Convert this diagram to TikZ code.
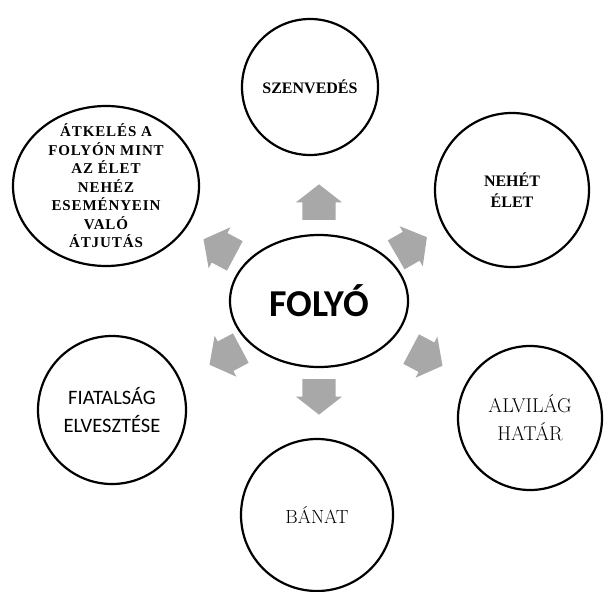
\documentclass[tikz,border=0pt]{standalone}
\usepackage{fontspec}
\usetikzlibrary{shapes.geometric,shapes.arrows}
\newfontfamily\calib{Carlito}
\newfontfamily\tnr{Liberation Serif}
\definecolor{arrgray}{HTML}{A8A8A8}
\tikzset{
  circ/.style={circle,draw=black,line width=2.2pt,fill=white,align=center,inner sep=0pt},
  oval/.style={ellipse,draw=black,line width=2.2pt,fill=white,align=center},
  bigarr/.style={single arrow,fill=arrgray,draw=none,inner xsep=11pt,inner ysep=16.5pt,
    single arrow head extend=6.5pt,single arrow tip angle=104,anchor=tail},
  bfserif/.style={font=\tnr\bfseries\fontsize{16}{21}\selectfont},
}
\begin{document}
\begin{tikzpicture}[x=1pt,y=-1pt]
\useasboundingbox (0,0) rectangle (604,591);
% outer topics
\node[circ,minimum size=136pt,bfserif] (szenv) at (310,87) {SZENVEDÉS};
\node[circ,minimum size=154pt,bfserif] (nehet) at (512,190) {NEHÉT\\ÉLET};
\node[oval,minimum width=186pt,minimum height=160pt,inner xsep=0pt,inner ysep=-8pt,
  font=\tnr\bfseries\addfontfeatures{LetterSpace=6}\fontsize{15}{18.5}\selectfont]
  (atkel) at (106,186) {ÁTKELÉS A\\FOLYÓN MINT\\AZ ÉLET\\NEHÉZ\\ESEMÉNYEIN\\VALÓ\\ÁTJUTÁS};
\node[circ,minimum size=148pt,font=\calib\fontsize{20.5}{28}\selectfont] (fiatal) at (112,410) {FIATALSÁG\\ELVESZTÉSE};
\node[circ,minimum size=144pt,font=\addfontfeatures{LetterSpace=12}\fontsize{20}{28}\selectfont] (alvilag) at (530,418) {ALVILÁG\\HATÁR};
\node[circ,minimum size=152pt,font=\fontsize{19}{24}\selectfont] (banat) at (317,515) {BÁNAT};
% centre
\node[oval,minimum width=178pt,minimum height=132pt,font=\calib\bfseries\fontsize{38}{40}\selectfont] (folyo) at (319,301) {FOLYÓ};
% block arrows, placed by their tails
\node[bigarr,rotate=90] (a-szenv) at (319,220) {};
\node[bigarr,rotate=30] (a-nehet) at (396,255) {};
\node[bigarr,rotate=-28] (a-alvilag) at (411,349) {};
\node[bigarr,rotate=-90] (a-banat) at (319,379) {};
\node[bigarr,rotate=208] (a-fiatal) at (241,348) {};
\node[bigarr,rotate=152] (a-atkel) at (235,256) {};
\end{tikzpicture}
\end{document}
